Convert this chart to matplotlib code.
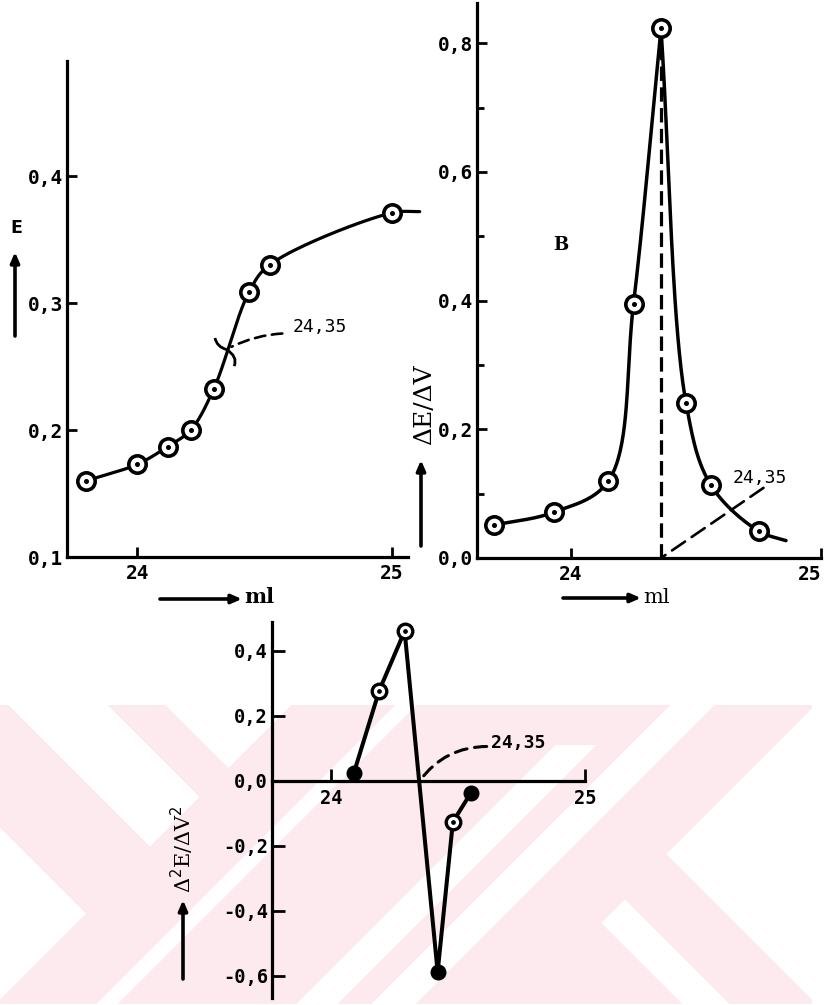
import numpy as np
import matplotlib
matplotlib.use("Agg")
import matplotlib.pyplot as plt
from matplotlib.path import Path
from matplotlib.patches import FancyArrowPatch

# ---- (a) potentiometric titration curve E vs. volume ----
vol_a = [23.80, 24.00, 24.12, 24.21, 24.30, 24.44, 24.52, 25.00]
emf_a = [0.160, 0.173, 0.187, 0.200, 0.232, 0.309, 0.330, 0.371]
tail_a = (25.11, 0.372)
yticks_a = [0.1, 0.2, 0.3, 0.4]
ylabels_a = ["0,1", "0,2", "0,3", "0,4"]

# ---- (b) first derivative dE/dV ----
vol_b = [23.69, 23.93, 24.15, 24.25, 24.36, 24.46, 24.56, 24.75]
dedv_b = [0.051, 0.071, 0.120, 0.395, 0.823, 0.241, 0.113, 0.042]
tail_b = (24.86, 0.027)
yticks_b = [0.0, 0.2, 0.4, 0.6, 0.8]
ylabels_b = ["0,0", "0,2", "0,4", "0,6", "0,8"]

# ---- (c) second derivative d2E/dV2 ----
vol_c = [24.09, 24.19, 24.29, 24.42, 24.48, 24.55]
d2_c = [0.023, 0.277, 0.460, -0.589, -0.127, -0.039]
filled_c = [True, False, False, True, False, True]
yticks_c = [-0.6, -0.4, -0.2, 0.0, 0.2, 0.4]
ylabels_c = ["-0,6", "-0,4", "-0,2", "0,0", "0,2", "0,4"]

xticks = [24, 25]
xlabels = ["24", "25"]
end_point = 24.35
end_label = "24,35"

W, H = 824, 1005
MONO = "DejaVu Sans Mono"
SERIF = "DejaVu Serif"

fig = plt.figure(figsize=(W / 100, H / 100), dpi=100)


def fx(px):
    return px / W


def fy(py):
    return 1 - py / H


# faint page watermark in the lower part of the sheet
bg = fig.add_axes([0, 0, 1, 1], zorder=-10)
yy, xx = np.mgrid[0:H, 0:W] + 0.5
u = xx + yy
v = yy - xx
band = (xx < 812) & (yy > 705) & (yy < 1004)
gaps = (((u > 1520) & (v < 188)) |
        ((u > 1524) & (v > 274) & (v < 322)) |
        ((u > 1375) & (u < 1420)) |
        ((u > 1300) & (u < 1342) & (yy > 745)) |
        ((u > 1100) & (u < 1122)) |
        ((v < 540) & (u < 997)) |
        ((v > 597) & (v < 697) & (u < 997)) |
        ((v > 827) & (u < 1000)))
img = np.ones((H, W, 3))
img[band & ~gaps] = np.array([253, 234, 238]) / 255.0
bg.imshow(img, origin="upper", extent=(0, W, H, 0), interpolation="nearest")
bg.set_axis_off()


def rect(l, t, r, b):
    return [fx(l), fy(b), (r - l) / W, (b - t) / H]


def catmull_rom(P, n=40, alpha=0.5):
    P = np.asarray(P, float)
    P = np.vstack([2 * P[0] - P[1], P, 2 * P[-1] - P[-2]])
    out = []
    for i in range(len(P) - 3):
        p0, p1, p2, p3 = P[i:i + 4]
        t0 = 0.0
        t1 = t0 + np.linalg.norm(p1 - p0) ** alpha
        t2 = t1 + np.linalg.norm(p2 - p1) ** alpha
        t3 = t2 + np.linalg.norm(p3 - p2) ** alpha
        t = np.linspace(t1, t2, n)[:, None]
        a1 = (t1 - t) / (t1 - t0) * p0 + (t - t0) / (t1 - t0) * p1
        a2 = (t2 - t) / (t2 - t1) * p1 + (t - t1) / (t2 - t1) * p2
        a3 = (t3 - t) / (t3 - t2) * p2 + (t - t2) / (t3 - t2) * p3
        b1 = (t2 - t) / (t2 - t0) * a1 + (t - t0) / (t2 - t0) * a2
        b2 = (t3 - t) / (t3 - t1) * a2 + (t - t1) / (t3 - t1) * a3
        c = (t2 - t) / (t2 - t1) * b1 + (t - t1) / (t2 - t1) * b2
        out.append(c if i == 0 else c[1:])
    return np.vstack(out)


def smooth_line(ax, xs, ys, **kw):
    pts = ax.transData.transform(np.column_stack([xs, ys]))
    cur = ax.transData.inverted().transform(catmull_rom(pts))
    ax.plot(cur[:, 0], cur[:, 1], color="black", solid_capstyle="round",
            clip_on=False, **kw)


def ring_markers(ax, xs, ys, ms=12.5):
    ax.plot(xs, ys, "o", ms=ms, mfc="white", mec="black", mew=2.6,
            zorder=5, clip_on=False)
    ax.plot(xs, ys, "o", ms=2.6, color="black", zorder=6, clip_on=False)


def style_axes(ax, size=14):
    for s in ("top", "right"):
        ax.spines[s].set_visible(False)
    for s in ("left", "bottom"):
        ax.spines[s].set_linewidth(2.3)
    ax.tick_params(which="both", direction="in", width=2.0, color="black")
    ax.tick_params(which="major", length=7)
    ax.tick_params(which="minor", length=5)
    ax.patch.set_alpha(0)
    for lab in ax.get_xticklabels() + ax.get_yticklabels():
        lab.set_fontfamily(MONO)
        lab.set_fontweight("bold")
        lab.set_fontsize(size)


def axis_arrow(p0, p1):
    fig.add_artist(FancyArrowPatch((fx(p0[0]), fy(p0[1])), (fx(p1[0]), fy(p1[1])),
                                   transform=fig.transFigure,
                                   arrowstyle="-|>,head_length=6,head_width=2.6",
                                   lw=2.6, color="black", shrinkA=0, shrinkB=0))


# ================= panel (a) =================
axA = fig.add_axes(rect(67, 61, 408, 557))
axA.set_xlim(23.724, 25.064)
axA.set_ylim(0.1, 0.4906)
axA.set_xticks(xticks, xlabels)
axA.set_yticks(yticks_a, ylabels_a)
style_axes(axA)
axA.tick_params(axis="x", pad=5)
axA.tick_params(axis="y", pad=3)
smooth_line(axA, vol_a + [tail_a[0]], emf_a + [tail_a[1]], lw=2.3)
ring_markers(axA, vol_a, emf_a)

# equivalence point marked on the curve
e_eq = float(np.interp(end_point, vol_a, emf_a)) + 0.004
hook = Path([(-0.9, 0.9), (-0.75, 0.2), (0.0, 0.0), (0.9, -0.55), (0.6, -1.3)],
            [Path.MOVETO, Path.CURVE3, Path.LINETO, Path.CURVE3, Path.LINETO])
axA.plot([end_point], [e_eq], marker=hook, ms=24, mfc="none", mec="black",
         mew=2.0, zorder=4)
axA.annotate("", xy=(end_point + 0.02, e_eq + 0.002), xytext=(24.57, 0.276),
             arrowprops=dict(arrowstyle="-", ls=(0, (4, 2.5)), lw=1.9,
                             connectionstyle="arc3,rad=0.1", shrinkA=0, shrinkB=0))
axA.text(24.61, 0.281, end_label, fontfamily=MONO, fontsize=13, va="center")

fig.text(fx(16), fy(228), "E", fontfamily="DejaVu Sans", fontweight="bold",
         fontsize=12.5, ha="center", va="center")
axis_arrow((15, 336), (15, 252))
axis_arrow((160, 599), (242, 599))
fig.text(fx(244), fy(597), "ml", fontfamily=SERIF, fontweight="bold",
         fontsize=15, ha="left", va="center")

# ================= panel (b) =================
axB = fig.add_axes(rect(477, 3, 821, 558))
axB.set_xlim(23.624, 25.0)
axB.set_ylim(0.0, 0.8625)
axB.set_xticks(xticks, xlabels)
axB.set_yticks(yticks_b, ylabels_b)
axB.set_yticks([0.1, 0.3, 0.5, 0.7], minor=True)
style_axes(axB)
axB.tick_params(axis="x", pad=5)
axB.tick_params(axis="y", pad=3)
axB.get_xticklabels()[-1].set_horizontalalignment("right")
peak = int(np.argmax(dedv_b))
smooth_line(axB, vol_b[:peak + 1], dedv_b[:peak + 1], lw=2.5)
smooth_line(axB, vol_b[peak:] + [tail_b[0]], dedv_b[peak:] + [tail_b[1]], lw=2.5)
ring_markers(axB, vol_b, dedv_b)
axB.plot([vol_b[peak], vol_b[peak]], [0, dedv_b[peak] - 0.02], color="black",
         lw=2.3, ls=(0, (4.5, 2)), zorder=3)
axB.annotate("", xy=(vol_b[peak], 0.0), xytext=(24.77, 0.109),
             arrowprops=dict(arrowstyle="-", ls=(0, (6, 3)), lw=1.9,
                             shrinkA=0, shrinkB=0))
axB.text(24.645, 0.124, end_label, fontfamily=MONO, fontsize=13, va="center")
axB.text(23.96, 0.487, "B", fontfamily=SERIF, fontweight="bold", fontsize=13,
         ha="center", va="center")

fig.text(fx(425), fy(405), "ΔE/ΔV", fontfamily=SERIF, fontsize=18,
         rotation=90, ha="center", va="center")
axis_arrow((421, 546), (421, 460))
axis_arrow((563, 598), (641, 598))
fig.text(fx(643), fy(597), "ml", fontfamily=SERIF, fontsize=15,
         ha="left", va="center")

# ================= panel (c) =================
axC = fig.add_axes(rect(272, 621.7, 585, 998))
axC.spines["bottom"].set_position(("data", 0.0))
axC.set_xlim(23.768, 25.0)
axC.set_ylim(-0.669, 0.489)
axC.set_xticks(xticks, xlabels)
axC.set_yticks(yticks_c, ylabels_c)
style_axes(axC, size=13.5)
axC.tick_params(axis="x", pad=6, length=9)
axC.tick_params(axis="y", pad=3, length=9)
axC.plot(vol_c, d2_c, color="black", lw=2.9, solid_joinstyle="miter", zorder=3)
for xv, yv, full in zip(vol_c, d2_c, filled_c):
    if full:
        axC.plot(xv, yv, "o", ms=10.5, color="black", zorder=5)
    else:
        axC.plot(xv, yv, "o", ms=10.5, mfc="white", mec="black", mew=2.4, zorder=5)
        axC.plot(xv, yv, "o", ms=2.4, color="black", zorder=6)
axC.annotate("", xy=(end_point, 0.0), xytext=(24.613, 0.105),
             arrowprops=dict(arrowstyle="-", ls=(0, (4, 2.5)), lw=2.2,
                             connectionstyle="arc3,rad=0.25", shrinkA=0, shrinkB=0))
axC.text(24.63, 0.116, end_label, fontfamily=MONO, fontweight="bold",
         fontsize=13, va="center")

fig.text(fx(182), fy(849), "Δ$^2$E/ΔV$^2$", fontfamily=SERIF, fontsize=15,
         rotation=90, ha="center", va="center")
axis_arrow((183, 979), (183, 900))

fig.savefig("out.png", dpi=100)
